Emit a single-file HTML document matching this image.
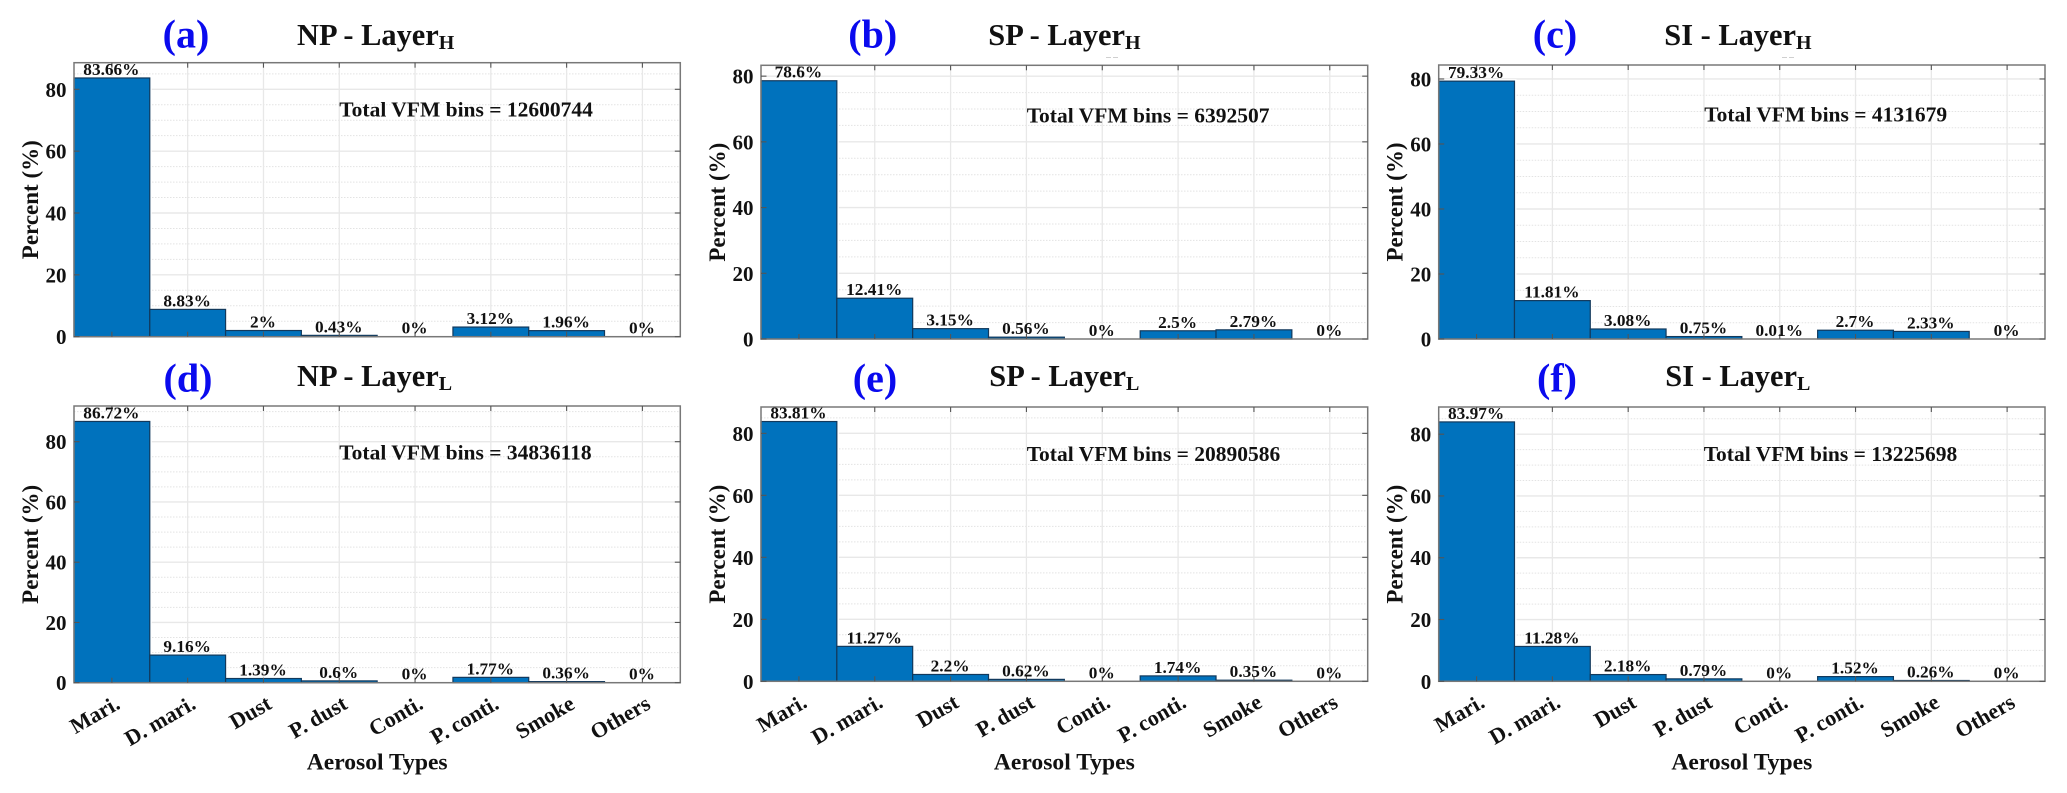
<!DOCTYPE html>
<html lang="en">
<head>
<meta charset="utf-8">
<title>Aerosol type percentages by region and layer</title>
<style>
html,body{margin:0;padding:0;background:#fff;}
svg{display:block;}
text{font-family:"Liberation Serif","DejaVu Serif",serif;font-weight:bold;fill:#111;}
</style>
</head>
<body>
<svg id="chart" xmlns="http://www.w3.org/2000/svg" width="2067" height="793" viewBox="0 0 2067 793"></svg>
<script>
const categories = ["Mari.", "D. mari.", "Dust", "P. dust", "Conti.", "P. conti.", "Smoke", "Others"];
const npHighValues = [83.66, 8.83, 2, 0.43, 0, 3.12, 1.96, 0];
const spHighValues = [78.6, 12.41, 3.15, 0.56, 0, 2.5, 2.79, 0];
const siHighValues = [79.33, 11.81, 3.08, 0.75, 0.01, 2.7, 2.33, 0];
const npLowValues = [86.72, 9.16, 1.39, 0.6, 0, 1.77, 0.36, 0];
const spLowValues = [83.81, 11.27, 2.2, 0.62, 0, 1.74, 0.35, 0];
const siLowValues = [83.97, 11.28, 2.18, 0.79, 0, 1.52, 0.26, 0];
const yAxisLimits = [88.6, 83.3, 84.3, 91.85, 88.5, 88.8];
const yTickValues = [0, 20, 40, 60, 80];
const totalBins = [12600744, 6392507, 4131679, 34836118, 20890586, 13225698];
const panelLetters = ["(a)", "(b)", "(c)", "(d)", "(e)", "(f)"];
const regionNames = ["NP", "SP", "SI", "NP", "SP", "SI"];
const layerNames = ["H", "H", "H", "L", "L", "L"];

const svg = document.getElementById('chart');
const NS = 'http://www.w3.org/2000/svg';

function make(tag, attrs, parent, text) {
  const node = document.createElementNS(NS, tag);
  for (const key in attrs) node.setAttribute(key, attrs[key]);
  if (text !== undefined) node.textContent = text;
  parent.appendChild(node);
  return node;
}

function drawPanel(idx, values, box) {
  const left = box.left, right = box.right, top = box.top, bottom = box.bottom;
  const yMax = yAxisLimits[idx];
  const band = (right - left) / categories.length;
  const xEdge = i => left + i * band;
  const xCenter = i => left + (i + 0.5) * band;
  const yScale = v => bottom - (v / yMax) * (bottom - top);

  const g = make('g', {}, svg);
  
  

  // minor horizontal grid
  for (let v = 5; v < yMax; v += 5) {
    if (v % 20 === 0) continue;
    const line = make('line', {x1: left, x2: right, y1: yScale(v), y2: yScale(v), stroke: '#e3e3e3', 'stroke-width': 1, 'stroke-dasharray': '1.5 1.5'}, g);
    
    
  }
  // major horizontal grid
  yTickValues.forEach(v => {
    if (v === 0) return;
    const line = make('line', {x1: left, x2: right, y1: yScale(v), y2: yScale(v), stroke: '#e8e8e8', 'stroke-width': 1.4}, g);
    
    
  });
  // vertical grid
  categories.forEach((c, i) => {
    const line = make('line', {x1: xCenter(i), x2: xCenter(i), y1: top, y2: bottom, stroke: '#e8e8e8', 'stroke-width': 1.3}, g);
    
    
  });

  // bars
  values.forEach((v, i) => {
    const yTop = yScale(v);
    const visible = v >= 0.05;
    if (visible) {
      const halo = make('rect', {x: xEdge(i), y: yTop, width: band, height: bottom - yTop, fill: '#fff', stroke: '#fff', 'stroke-width': 4}, g);
      
      
    }
  });
  values.forEach((v, i) => {
    const yTop = yScale(v);
    const visible = v >= 0.05;
    const bar = make('rect', {x: xEdge(i), y: yTop, width: band, height: bottom - yTop, fill: '#0072BD', stroke: visible ? '#12395c' : 'none', 'stroke-width': 1.2}, g);
    
    
  });

  // frame
  const frame = make('rect', {x: left, y: top, width: right - left, height: bottom - top, fill: 'none', stroke: '#787878', 'stroke-width': 1.5}, g);
  
  

  // x ticks + category labels
  categories.forEach((c, i) => {
    const x = xCenter(i);
    const tb = make('line', {x1: x, x2: x, y1: bottom, y2: bottom - 5, stroke: '#555', 'stroke-width': 1.1}, g);
    
    
    const tt = make('line', {x1: x, x2: x, y1: top, y2: top + 5, stroke: '#555', 'stroke-width': 1.1}, g);
    
    
    if (box.showCategories) {
      const ex = x + 9.5, ey = bottom + 25;
      const lab = make('text', {x: ex, y: ey, 'font-size': 22, 'text-anchor': 'end', transform: 'rotate(-30 ' + ex + ' ' + ey + ')'}, g, c);
      
      
    }
  });

  // y ticks + labels
  yTickValues.forEach(v => {
    const y = yScale(v);
    const tl = make('line', {x1: left, x2: left + 5.5, y1: y, y2: y, stroke: '#555', 'stroke-width': 1.1}, g);
    
    
    const tr = make('line', {x1: right, x2: right - 5.5, y1: y, y2: y, stroke: '#555', 'stroke-width': 1.1}, g);
    
    
    const lab = make('text', {x: left - 7.5, y: y + 7.5, 'font-size': 21, 'text-anchor': 'end'}, g, String(v));
    
    
  });

  // value labels
  values.forEach((v, i) => {
    const lab = make('text', {x: xCenter(i) - 0.5, y: yScale(v) - 3, 'font-size': 17.3, 'text-anchor': 'middle'}, g, v + '%');
    
    
  });

  // y axis title
  const yx = left - 36, yy = (top + bottom) / 2;
  const yTitle = make('text', {x: yx, y: yy, 'font-size': 23, 'text-anchor': 'middle', transform: 'rotate(-90 ' + yx + ' ' + yy + ')'}, g, 'Percent (%)');
  
  

  // x axis title
  if (box.showCategories) {
    const xTitle = make('text', {x: (left + right) / 2, y: 769.5, 'font-size': 23.6, 'text-anchor': 'middle'}, g, 'Aerosol Types');
    
    
  }

  // annotation
  const note = make('text', {x: box.noteX, y: box.noteY, 'font-size': 21.5}, g, 'Total VFM bins = ' + totalBins[idx]);
  
  

  // title
  const title = make('text', {x: box.titleX, y: box.titleY, 'font-size': 30.4}, g, regionNames[idx] + ' - Layer');
  
  
  make('tspan', {'font-size': 20, dy: 4}, title, layerNames[idx]);

  // panel letter
  const letter = make('text', {x: box.letterX, y: box.letterY, 'font-size': 40, 'text-anchor': 'middle', style: 'fill:#0a0aee'}, g, panelLetters[idx]);
  
  
}

drawPanel(0, npHighValues, {left: 74, right: 680.3, top: 62.7, bottom: 336.7, showCategories: false, noteX: 339.3, noteY: 116.7, titleX: 297, titleY: 45, letterX: 186, letterY: 47.7});
drawPanel(1, spHighValues, {left: 761, right: 1367.7, top: 65.3, bottom: 339, showCategories: false, noteX: 1026.7, noteY: 122.3, titleX: 988.3, titleY: 45, letterX: 872.7, letterY: 47.7});
drawPanel(2, siHighValues, {left: 1438.7, right: 2045, top: 65, bottom: 339, showCategories: false, noteX: 1704.3, noteY: 121.7, titleX: 1664.3, titleY: 45, letterX: 1555, letterY: 47.7});
drawPanel(3, npLowValues, {left: 74, right: 680.3, top: 406, bottom: 682.7, showCategories: true, noteX: 339.3, noteY: 459.3, titleX: 297, titleY: 386, letterX: 188, letterY: 391.5});
drawPanel(4, spLowValues, {left: 761, right: 1367.7, top: 407, bottom: 681.3, showCategories: true, noteX: 1026.7, noteY: 461, titleX: 989.3, titleY: 386, letterX: 875, letterY: 391.5});
drawPanel(5, siLowValues, {left: 1438.7, right: 2045, top: 407, bottom: 681.3, showCategories: true, noteX: 1703.7, noteY: 461, titleX: 1665.3, titleY: 386, letterX: 1557, letterY: 391.5});

// faint dash marks beneath two titles
const dashA = make('line', {x1: 1106, x2: 1119, y1: 57.5, y2: 57.5, stroke: '#cfcfcf', 'stroke-width': 1, 'stroke-dasharray': '5 2'}, svg);


const dashB = make('line', {x1: 1782, x2: 1795, y1: 57.5, y2: 57.5, stroke: '#cfcfcf', 'stroke-width': 1, 'stroke-dasharray': '5 2'}, svg);


</script>
</body>
</html>
